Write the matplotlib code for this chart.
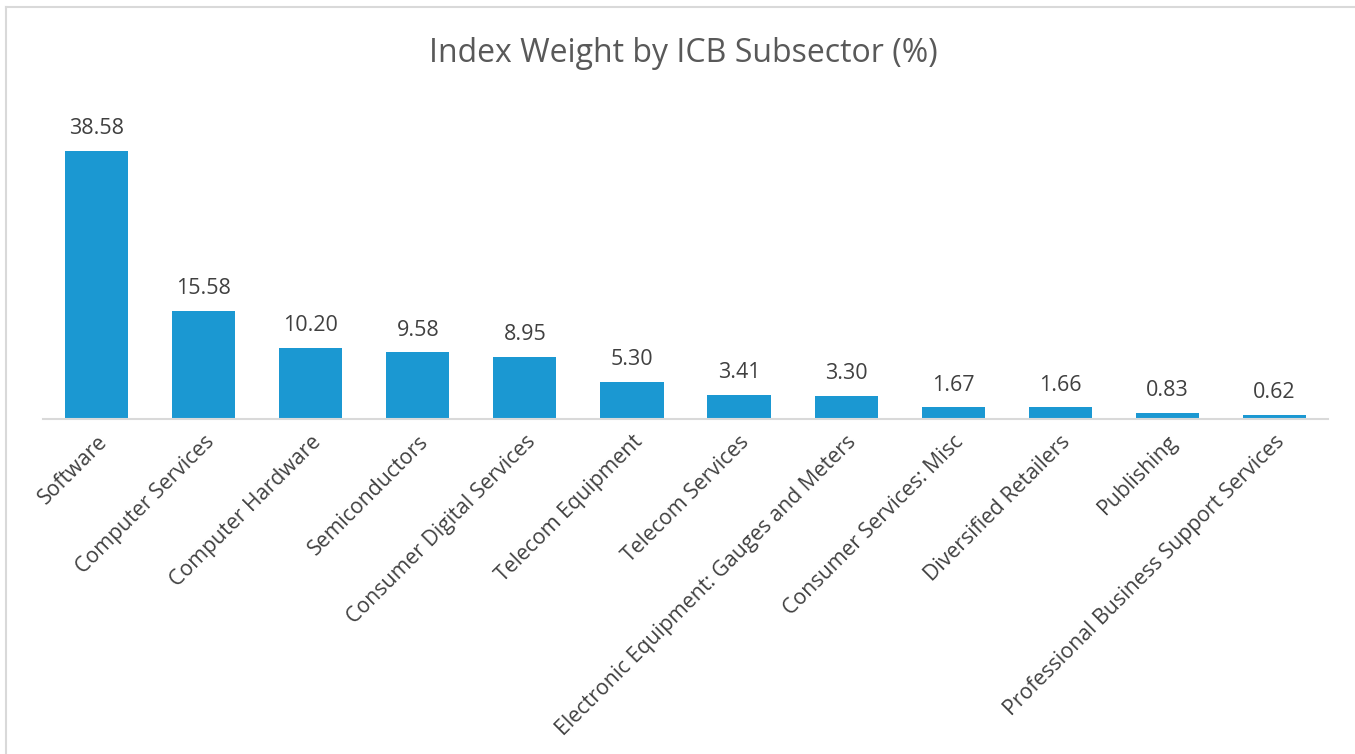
import matplotlib
matplotlib.use("Agg")
import matplotlib.pyplot as plt
from matplotlib.lines import Line2D

categories = ["Software", "Computer Services", "Computer Hardware", "Semiconductors",
              "Consumer Digital Services", "Telecom Equipment", "Telecom Services",
              "Electronic Equipment: Gauges and Meters", "Consumer Services: Misc",
              "Diversified Retailers", "Publishing", "Professional Business Support Services"]
values = [38.58, 15.58, 10.20, 9.58, 8.95, 5.30, 3.41, 3.30, 1.67, 1.66, 0.83, 0.62]
title = "Index Weight by ICB Subsector (%)"

plt.rcParams['font.family'] = ['Open Sans', 'DejaVu Sans']

W, H = 1355, 754
fig = plt.figure(figsize=(W/100, H/100), dpi=100)
ax = fig.add_axes([43/W, 1-419/H, (1328-43)/W, (419-100)/H])

x = list(range(len(categories)))
bars = ax.bar(x, values, width=0.59, color="#1B98D2", zorder=2)
ax.set_xlim(-0.5, len(categories)-0.5)
ax.set_ylim(0, 45.9)

for xi, v in zip(x, values):
    ax.annotate(f"{v:.2f}", (xi, v), xytext=(0, 8.5), textcoords="offset points",
                ha="center", va="bottom", fontsize=15.5, color="#404040")

ax.set_xticks(x)
ax.set_xticklabels(categories, rotation=45, ha="right", rotation_mode="anchor",
                   fontsize=15.3, color="#404040")
ax.tick_params(axis="x", length=0, pad=9)
ax.set_yticks([])
for s in ["top", "right", "left"]:
    ax.spines[s].set_visible(False)
ax.spines["bottom"].set_color("#D9D9D9")
ax.spines["bottom"].set_linewidth(1.5)

fig.text(683/W, 1-54/H, title, ha="center", va="center", fontsize=23, color="#595959")

# chart border (left and top visible)
fig.add_artist(Line2D([6/W, 6/W], [0, 1-7/H], color="#D9D9D9", lw=1.5, transform=fig.transFigure))
fig.add_artist(Line2D([6/W, 1], [1-7/H, 1-7/H], color="#D9D9D9", lw=1.5, transform=fig.transFigure))

fig.savefig("out.png", dpi=100, facecolor="white")
